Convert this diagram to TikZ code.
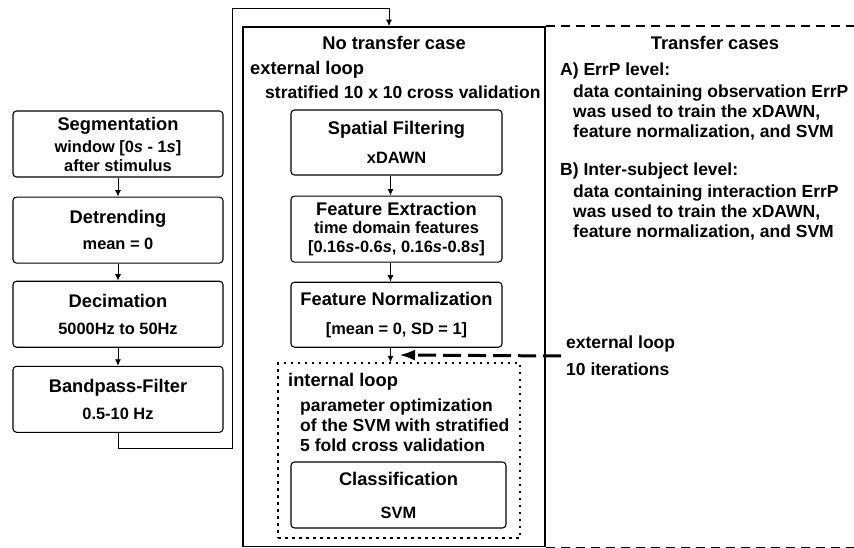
\documentclass[tikz,border=0pt]{standalone}
\usepackage{fontspec}
\setmainfont{Liberation Sans}
\usepackage{tikz}
\usetikzlibrary{shapes,arrows.meta,positioning}

\newcommand{\titlesize}{\fontsize{18.3}{21}\selectfont\bfseries}
\newcommand{\subsize}{\fontsize{16.4}{19}\selectfont\bfseries}
\newcommand{\notesize}{\fontsize{17.5}{20}\selectfont\bfseries}

\begin{document}
\begin{tikzpicture}[x=1pt, y=1pt, >={Latex[length=6.5pt,width=6pt]}]
    % Define styles
    \tikzstyle{stage} = [rectangle, rounded corners=3.5pt, draw=black, line width=1.1pt, minimum width=210pt, minimum height=66pt, inner sep=0pt, align=center, font=\titlesize]
    \tikzstyle{innerstage} = [stage, minimum width=211pt, minimum height=65pt]
    \tikzstyle{casebox} = [rectangle, draw=black, line width=1.8pt, inner sep=0pt]
    \tikzstyle{loopbox} = [rectangle, draw=black, line width=1.3pt, dash pattern=on 2.5pt off 4.5pt, inner sep=0pt]
    \tikzstyle{note} = [inner sep=0pt, anchor=west, align=left, font=\notesize]
    \tikzstyle{flow} = [->, line width=0.9pt]
    \tikzstyle{feedback} = [-{Latex[length=16pt,width=11pt]}, line width=3pt, dash pattern=on 18pt off 7pt]
    \tikzstyle{transfer} = [line width=1.6pt, dash pattern=on 9pt off 6pt]

    \useasboundingbox (0,0) rectangle (854,-548);

    % Preprocessing
    \node[stage] (seg) at (118,-144) {Segmentation\\[1pt]{\subsize window [0\textit{s} - 1\textit{s}]}\\[-2pt]{\subsize after stimulus}};
    \node[stage, below=19pt of seg] (detrend) {Detrending\\[5pt]{\subsize mean = 0}};
    \node[stage, below=17pt of detrend] (decim) {Decimation\\[6pt]{\subsize 5000Hz to 50Hz}};
    \node[stage, below=18pt of decim] (band) {Bandpass-Filter\\[6pt]{\subsize 0.5-10 Hz}};

    % No transfer case
    \node[casebox, minimum width=302pt, minimum height=519.5pt] (notransfer) at (394,-286.75) {};
    \node[font=\titlesize, inner sep=0pt] (ntitle) at (394,-43) {No transfer case};
    \node[note, font=\titlesize] (extloop) at (250,-70) {external loop};
    \node[note] (crossval) at (265,-92) {stratified 10 x 10 cross validation};
    \node[innerstage] (spatial) at (396.5,-142.5) {Spatial Filtering\\[8pt]{\subsize xDAWN}};
    \node[innerstage, minimum height=66pt, below=20pt of spatial] (extract) {Feature Extraction\\[-3pt]{\subsize time domain features}\\[-2pt]{\subsize [0.16\textit{s}-0.6\textit{s}, 0.16\textit{s}-0.8\textit{s}]}};
    \node[innerstage, below=19pt of extract] (normal) {Feature Normalization\\[8pt]{\subsize [mean = 0, SD = 1]}};
    \node[loopbox, minimum width=242pt, minimum height=175pt] (internal) at (399,-450.5) {};
    \node[note, font=\titlesize] (intloop) at (288,-382) {internal loop};
    \node[note] (paramopt) at (300,-425) {parameter optimization\\of the SVM with stratified\\5 fold cross validation};
    \node[innerstage, minimum width=215pt, minimum height=66pt] (classif) at (398.5,-495) {Classification\\[12pt]{\subsize SVM}};

    % Transfer cases
    \node[font=\titlesize, inner sep=0pt] (ttitle) at (715,-43) {Transfer cases};
    \node[note] (errp) at (560,-102) {A) ErrP level:\\[2pt]\hspace*{13pt}data containing observation ErrP\\\hspace*{13pt}was used to train the xDAWN,\\\hspace*{13pt}feature normalization, and SVM};
    \node[note] (inter) at (560,-202) {B) Inter-subject level:\\[2pt]\hspace*{13pt}data containing interaction ErrP\\\hspace*{13pt}was used to train the xDAWN,\\\hspace*{13pt}feature normalization, and SVM};
    \node[note, inner xsep=5pt] (iterloop) at (561,-356) {external loop\\[7pt]10 iterations};

    \coordinate (loopa) at (232,-448);
    \coordinate (loopb) at (389,-8);
    \coordinate (entry) at (399,-355);

    % Connections
    \draw[flow] (seg) -- (detrend);
    \draw[flow] (detrend) -- (decim);
    \draw[flow] (decim) -- (band);
    \draw[flow] (band.south) |- (loopa) |- (loopb) -- (loopb |- notransfer.north);
    \draw[flow] ([xshift=-6pt]spatial.south) -- ([xshift=-6pt]extract.north);
    \draw[flow] ([xshift=-6pt]extract.south) -- ([xshift=-6pt]normal.north);
    \draw[flow] ([xshift=-6pt]normal.south) -- ([xshift=-6pt]normal.south |- internal.north);
    \draw[feedback] (iterloop.west) -- (entry);
    \draw[transfer] (notransfer.north east) -- ++(309,0);
    \draw[transfer] (notransfer.south east) -- ++(309,0);
\end{tikzpicture}
\end{document}
